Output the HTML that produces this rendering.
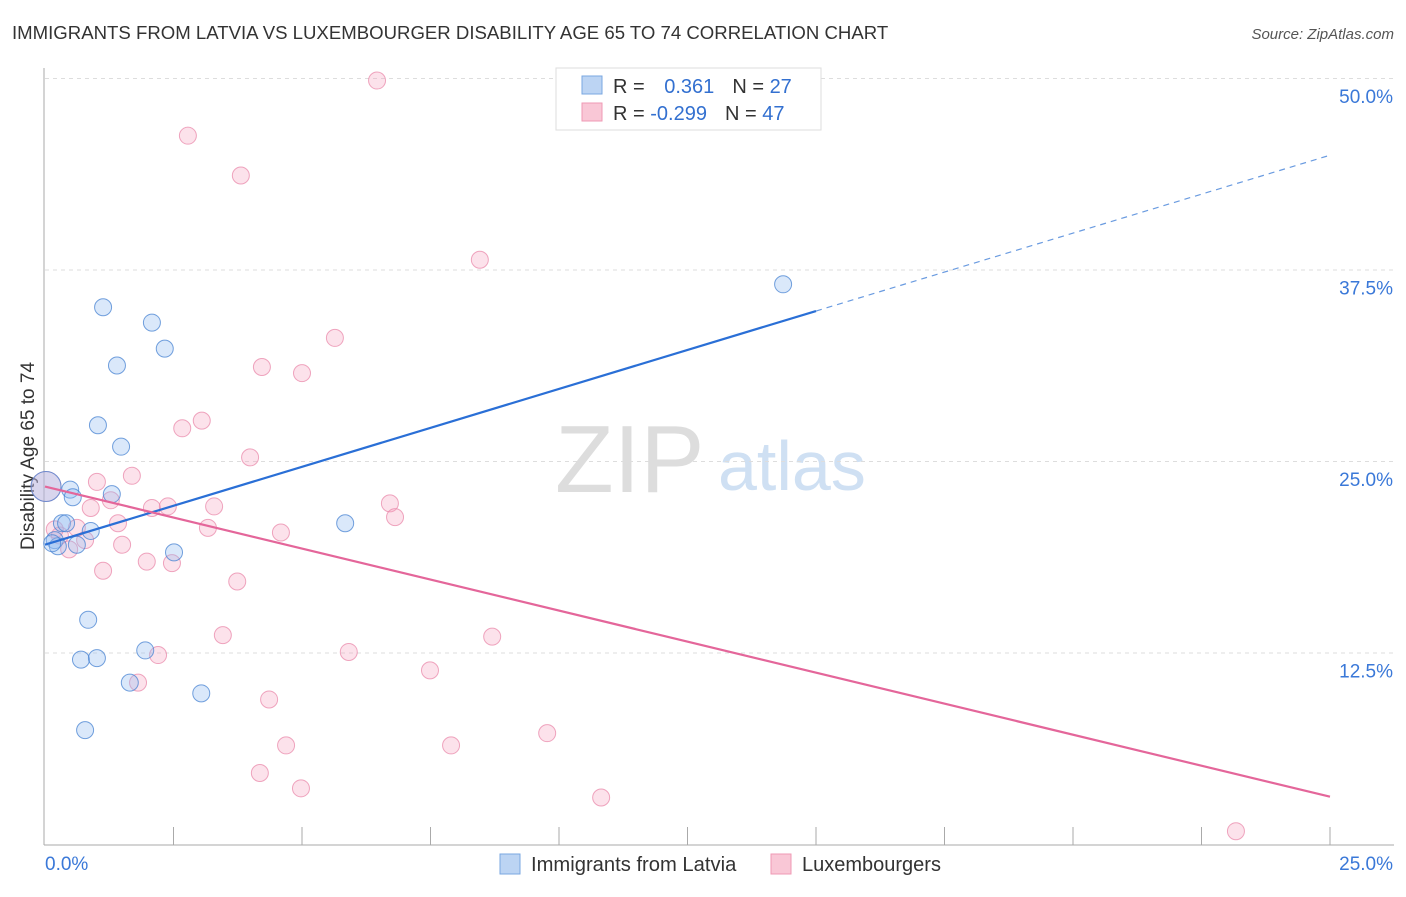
<!DOCTYPE html>
<html><head><meta charset="utf-8"><style>
body{margin:0;background:#fff;font-family:"Liberation Sans",sans-serif;}
svg text{font-family:"Liberation Sans",sans-serif;}
</style></head><body>
<svg id="c" width="1406" height="892">
<text x="12" y="39" font-size="18.6" fill="#333">IMMIGRANTS FROM LATVIA VS LUXEMBOURGER DISABILITY AGE 65 TO 74 CORRELATION CHART</text>
<text x="1394" y="39" font-size="15" fill="#555" text-anchor="end" font-style="italic">Source: ZipAtlas.com</text>
<text x="34" y="456" font-size="19" fill="#333" text-anchor="middle" transform="rotate(-90 34 456)">Disability Age 65 to 74</text>
<text x="555" y="492" font-size="96" fill="#ddd" font-family="Liberation Serif">ZIP</text>
<text x="718" y="490" font-size="70" fill="#cfe0f3">atlas</text>
<g id="grid"></g><g id="marks"></g>
<g>
<rect x="556" y="68" width="265" height="62" fill="#fff" stroke="#ddd"/>
<rect x="582" y="76" width="20" height="18" fill="#bcd4f3" stroke="#7aa7e0"/>
<rect x="582" y="103" width="20" height="18" fill="#f9c7d6" stroke="#ef9ab4"/>
<text x="613" y="93" font-size="20" fill="#333">R = <tspan fill="#3370d0" dx="14">0.361</tspan><tspan fill="#333" dx="18">N = </tspan><tspan fill="#3370d0">27</tspan></text>
<text x="613" y="120" font-size="20" fill="#333">R = <tspan fill="#3370d0">-0.299</tspan><tspan fill="#333" dx="18">N = </tspan><tspan fill="#3370d0">47</tspan></text>
</g>
<g>
<rect x="500" y="854" width="20" height="20" fill="#bcd4f3" stroke="#7aa7e0"/>
<text x="531" y="871" font-size="20.2" fill="#333">Immigrants from Latvia</text>
<rect x="771" y="854" width="20" height="20" fill="#f9c7d6" stroke="#ef9ab4"/>
<text x="802" y="871" font-size="20" fill="#333">Luxembourgers</text>
</g>
</svg>
<script>
const yTicks=[12.5,25,37.5,50];
const yTickLabels=["12.5%","25.0%","37.5%","50.0%"];
const xLabels=["0.0%","25.0%"];
const latviaX=[0.02,0.49,0.54,1.30,0.33,0.41,0.89,0.19,0.25,0.14,0.62,2.51,5.84,1.13,2.08,2.33,1.40,1.03,1.48,0.84,0.70,1.01,1.95,1.65,3.04,0.78,14.36];
const latviaY=[23.4,23.2,22.7,22.9,21.0,21.0,20.5,19.9,19.5,19.7,19.6,19.1,21.0,35.1,34.1,32.4,31.3,27.4,26.0,14.7,12.1,12.2,12.7,10.6,9.9,7.5,36.6];
const luxX=[6.46,2.78,3.81,8.46,5.64,4.22,5.00,3.05,2.67,3.99,1.69,1.01,0.02,1.28,0.89,2.08,2.39,3.29,6.71,6.81,1.42,3.17,4.59,0.62,0.78,0.29,0.47,1.50,1.98,2.47,1.13,3.74,3.46,8.70,2.20,5.91,7.49,1.81,4.36,9.77,4.69,7.90,4.18,4.98,10.82,23.17,0.19];
const luxY=[49.9,46.3,43.7,38.2,33.1,31.2,30.8,27.7,27.2,25.3,24.1,23.7,23.4,22.5,22.0,22.0,22.1,22.1,22.3,21.4,21.0,20.7,20.4,20.7,19.9,20.2,19.3,19.6,18.5,18.4,17.9,17.2,13.7,13.6,12.4,12.6,11.4,10.6,9.5,7.3,6.5,6.5,4.7,3.7,3.1,0.9,20.6];
const latviaTrend=[19.6,1.017];
const luxTrend=[23.4,-0.81];
const X=v=>45+v*51.4, Y=v=>845-v*15.32;
const NS="http://www.w3.org/2000/svg";
const g=document.getElementById('grid'), m=document.getElementById('marks');
function mk(p,t,a){const e=document.createElementNS(NS,t);for(const k in a)e.setAttribute(k,a[k]);p.appendChild(e);return e;}
yTicks.forEach((t,i)=>{
 const l=mk(g,'line',{x1:45,x2:1394,y1:Y(t)-0.5,y2:Y(t)-0.5,stroke:'#ddd','stroke-dasharray':'4,4'});
 
 
 const tx=mk(g,'text',{x:1393,y:Y(t)+24,'font-size':19,fill:'#3a78d8','text-anchor':'end'});tx.textContent=yTickLabels[i];
 
 
});
mk(g,'line',{x1:44,x2:44,y1:68,y2:845,stroke:'#aaa'});
mk(g,'line',{x1:44,x2:1394,y1:845,y2:845,stroke:'#aaa'});
for(let i=1;i<=10;i++){mk(g,'line',{x1:X(i*2.5),x2:X(i*2.5),y1:827,y2:845,stroke:'#aaa'});}
const xl0=mk(g,'text',{x:45,y:870,'font-size':19,fill:'#3a78d8'});xl0.textContent=xLabels[0];


const xl1=mk(g,'text',{x:1393,y:870,'font-size':19,fill:'#3a78d8','text-anchor':'end'});xl1.textContent=xLabels[1];


function dots(xs,ys,fill,stroke,name){xs.forEach((x,i)=>{
 const big=x<0.05;
 const c=mk(m,'circle',{cx:X(x),cy:Y(ys[i]),r:big?15:8.5,fill:fill,stroke:stroke,'stroke-width':1});
 
 
});}
dots(luxX,luxY,'rgba(244,160,188,0.3)','rgba(232,130,165,0.7)','luxembourger-point');
dots(latviaX,latviaY,'rgba(150,190,240,0.35)','rgba(70,130,210,0.75)','latvia-point');
const bl=mk(m,'line',{x1:X(0),y1:Y(latviaTrend[0]),x2:X(15),y2:Y(latviaTrend[0]+latviaTrend[1]*15),stroke:'#2a6fd6','stroke-width':2.2});


const bd=mk(m,'line',{x1:X(15),y1:Y(latviaTrend[0]+latviaTrend[1]*15),x2:X(25),y2:Y(latviaTrend[0]+latviaTrend[1]*25),stroke:'#6a9be0','stroke-width':1.2,'stroke-dasharray':'6,5'});


const pl=mk(m,'line',{x1:X(0),y1:Y(luxTrend[0]),x2:X(25),y2:Y(luxTrend[0]+luxTrend[1]*25),stroke:'#e4669a','stroke-width':2.2});


</script>
</body></html>
